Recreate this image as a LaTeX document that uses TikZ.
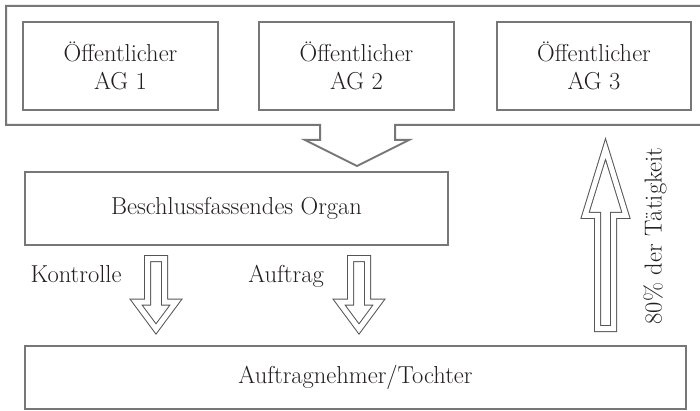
\documentclass[tikz,border=0pt]{standalone}
\definecolor{boxgray}{HTML}{777777}
\definecolor{arrowgray}{HTML}{555555}
\definecolor{textcol}{HTML}{231F20}
\begin{document}
\begin{tikzpicture}[x=1pt,y=-1pt,
  box/.style={draw=boxgray, line width=2pt, text=textcol, align=center,
    font=\fontsize{24.5}{28}\selectfont, inner sep=0pt},
  dblarrow/.style={draw=arrowgray, line width=1pt, double=white,
    double distance=5pt, line join=miter},
  txt/.style={text=textcol, font=\fontsize{24.5}{28}\selectfont, inner sep=0pt}]
\useasboundingbox (0,0) rectangle (700,411);
\fill[white] (0,0) rectangle (700,411);

% outer group box with arrow notch
\draw[draw=boxgray, line width=2pt, line join=miter]
  (6,6) -- (704,6) -- (704,125) -- (395,125) -- (395,140) -- (409,140)
  -- (357,166) -- (305,140) -- (320,140) -- (320,125) -- (6,125) -- cycle;

% public contracting authorities
\node[box, minimum width=195pt, minimum height=88pt] (ag1) at (120.5,66) {Öffentlicher\\AG 1};
\node[box, minimum width=195pt, minimum height=88pt] (ag2) at (356.5,66) {Öffentlicher\\AG 2};
\node[box, minimum width=194pt, minimum height=88pt] (ag3) at (594,66) {Öffentlicher\\AG 3};

% decision body
\node[box, minimum width=423pt, minimum height=73pt] (organ) at (236.5,208.5) {Beschlussfassendes Organ};

% contractor
\node[box, minimum width=661pt, minimum height=63pt] (tochter) at (355.5,377.5) {Auftragnehmer/Tochter};

% down arrows
\draw[dblarrow] (147.5,258.5) -- (164.5,258.5) -- (164.5,302) -- (176,302)
  -- (156,329) -- (136,302) -- (147.5,302) -- cycle;
\draw[dblarrow] (350.5,258.5) -- (367.5,258.5) -- (367.5,302) -- (379,302)
  -- (359,329) -- (339,302) -- (350.5,302) -- cycle;

% up arrow
\draw[dblarrow] (597.5,328.5) -- (613.5,328.5) -- (613.5,215.5) -- (626,215.5)
  -- (605.5,149) -- (585,215.5) -- (597.5,215.5) -- cycle;

% labels
\node[txt, anchor=base] (kontrolle) at (76,282) {Kontrolle};
\node[txt, anchor=base] (auftrag) at (286,282) {Auftrag};
\node[txt, rotate=90] (taetigkeit) at (655,236) {80\% der Tätigkeit};
\end{tikzpicture}
\end{document}
